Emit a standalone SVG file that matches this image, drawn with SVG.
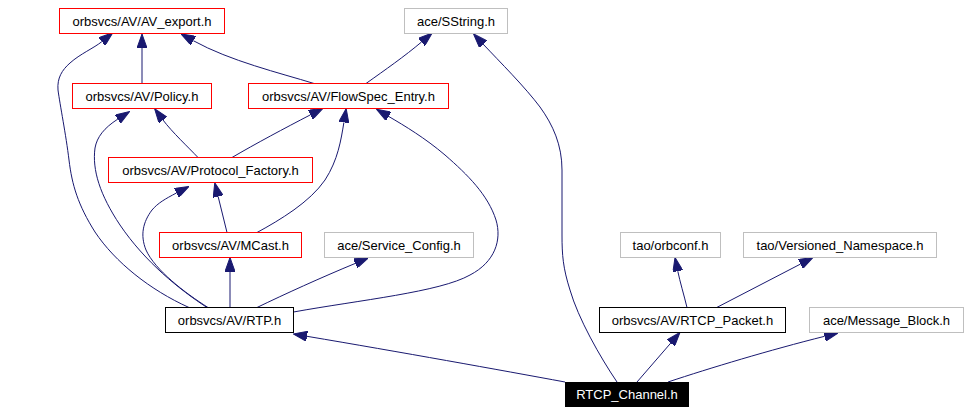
<svg xmlns="http://www.w3.org/2000/svg" width="968" height="413" viewBox="0 0 968 413">
<style>
  .box { fill: #ffffff; stroke-width: 1; }
  .red { stroke: #ff0000; }
  .blk { stroke: #000000; }
  .gry { stroke: #bfbfbf; }
  .cur { fill: #000000; stroke: #000000; }
  text { font-family: "Liberation Sans", Arial, sans-serif; font-size: 13px; text-anchor: middle; fill: #000000; }
  .white { fill: #ffffff; }
  .edge { fill: none; stroke: #191970; stroke-width: 1; marker-end: url(#arr); }
</style>
<defs>
  <marker id="arr" viewBox="0 0 14 10" refX="0" refY="5" markerWidth="14" markerHeight="10" markerUnits="userSpaceOnUse" orient="auto">
    <path d="M0,0 L14,5 L0,10 z" fill="#191970" stroke="#191970" stroke-width="1"/>
  </marker>
</defs>
<rect width="968" height="413" fill="#ffffff"/>
<g id="connectors">
  <path class="edge" d="M142,83.5 L142,48"/>
  <path class="edge" d="M314,83.5 C 280,73 230,61 193.3,40.7"/>
  <path class="edge" d="M189,307.5 C 150,290 115,262 95,232 C 78,205 72,185 69,160 C 66,135 60,105 58,90 C 57,78 62,70 70,63 C 80,54 94,48 101.9,41.6"/>
  <path class="edge" d="M207,307.5 C 180,290 145,262 120,225 C 100,195 92,170 95,148 C 97,137 104,128 117.8,119.1"/>
  <path class="edge" d="M198,157.5 C 188,147 172,132 163,120"/>
  <path class="edge" d="M232,157.5 C 255,144 285,128 310.5,114.8"/>
  <path class="edge" d="M257,232.5 C 280,220 310,202 325,180 C 338,160 341,140 343.9,122.4"/>
  <path class="edge" d="M293.5,312 C 360,300 440,292 470,275 C 495,262 502,240 496,220 C 488,195 468,175 445,155 C 425,138 405,126 388.6,116.4"/>
  <path class="edge" d="M366,83.5 C 385,70 405,56 421.5,42"/>
  <path class="edge" d="M617,382 C 600,357 578,318 570,290 C 563,268 562,255 562,235 L 562,170 C 562,145 553,125 540,107 C 525,87 500,62 483.1,44.1"/>
  <path class="edge" d="M227,232.5 L218.1,196.4"/>
  <path class="edge" d="M208,307.5 C 185,293 155,270 146,250 C 140,235 143,222 152,210 C 158,203 165,199 176.6,192.9"/>
  <path class="edge" d="M230,307.5 L230,271.5"/>
  <path class="edge" d="M257,307.5 C 285,294 320,278 355.3,263.4"/>
  <path class="edge" d="M565,382 C 500,370 400,352 307,336.3"/>
  <path class="edge" d="M637,382 L670.8,343"/>
  <path class="edge" d="M668,382 C 710,368 770,350 824.6,336.3"/>
  <path class="edge" d="M687,307.5 C 684,295 680,282 677.8,271.2"/>
  <path class="edge" d="M716.7,307.5 L800.6,264"/>
</g>
<g id="node-av-export">
  <rect class="box red" x="59.5" y="8.5" width="165" height="25"/>
  <text x="142" y="25.5">orbsvcs/AV/AV_export.h</text>
</g>
<g id="node-sstring">
  <rect class="box gry" x="404.5" y="8.5" width="103" height="25"/>
  <text x="456" y="25.5">ace/SString.h</text>
</g>
<g id="node-policy">
  <rect class="box red" x="72.5" y="83.5" width="139" height="25"/>
  <text x="142" y="100.5">orbsvcs/AV/Policy.h</text>
</g>
<g id="node-flowspec">
  <rect class="box red" x="248.5" y="83.5" width="200" height="25"/>
  <text x="348.5" y="100.5">orbsvcs/AV/FlowSpec_Entry.h</text>
</g>
<g id="node-protocol-factory">
  <rect class="box red" x="108.5" y="157.5" width="204" height="25"/>
  <text x="210.5" y="174.5">orbsvcs/AV/Protocol_Factory.h</text>
</g>
<g id="node-mcast">
  <rect class="box red" x="159.5" y="232.5" width="142" height="25"/>
  <text x="230.5" y="249.5">orbsvcs/AV/MCast.h</text>
</g>
<g id="node-service-config">
  <rect class="box gry" x="324.5" y="232.5" width="149" height="25"/>
  <text x="399" y="249.5">ace/Service_Config.h</text>
</g>
<g id="node-rtp">
  <rect class="box blk" x="165.5" y="307.5" width="128" height="25"/>
  <text x="229.5" y="324.5">orbsvcs/AV/RTP.h</text>
</g>
<g id="node-orbconf">
  <rect class="box gry" x="620.5" y="232.5" width="100" height="25"/>
  <text x="670.5" y="249.5">tao/orbconf.h</text>
</g>
<g id="node-versioned-namespace">
  <rect class="box gry" x="743.5" y="232.5" width="193" height="25"/>
  <text x="840" y="249.5">tao/Versioned_Namespace.h</text>
</g>
<g id="node-rtcp-packet">
  <rect class="box blk" x="599.5" y="307.5" width="186" height="25"/>
  <text x="692.5" y="324.5">orbsvcs/AV/RTCP_Packet.h</text>
</g>
<g id="node-message-block">
  <rect class="box gry" x="809.5" y="307.5" width="154" height="25"/>
  <text x="886.5" y="324.5">ace/Message_Block.h</text>
</g>
<g id="node-rtcp-channel">
  <rect class="cur" x="565.5" y="382.5" width="123" height="24"/>
  <text class="white" x="627" y="399">RTCP_Channel.h</text>
</g>
</svg>
